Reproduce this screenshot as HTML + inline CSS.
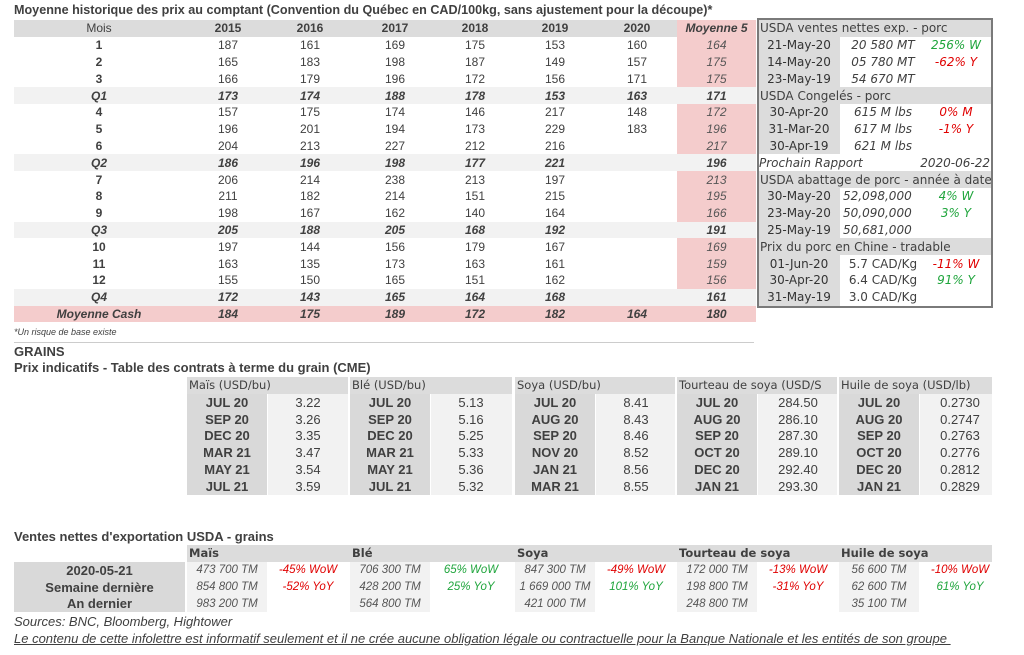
<!DOCTYPE html>
<html><head><meta charset="utf-8">
<style>
body{margin:0;width:1024px;height:655px;background:#fff;position:relative;overflow:hidden;font-family:"Liberation Sans",Arial,sans-serif;color:#404040}
.c{position:absolute;box-sizing:border-box;white-space:nowrap;overflow:hidden;display:flex;align-items:center;font-size:12px}
.t{position:absolute;white-space:nowrap;font-weight:bold;font-size:13px;color:#404040}
.dv{font-family:"DejaVu Sans",sans-serif;font-size:11.5px}
.pk{font-size:12px}
</style></head><body>
<div class="t" style="left:14px;top:3px;font-size:12.6px">Moyenne historique des prix au comptant (Convention du Québec en CAD/100kg, sans ajustement pour la découpe)*</div>
<div class="t" style="left:14px;top:327px;font-size:9px;font-weight:normal;font-style:italic">*Un risque de base existe</div>
<div style="position:absolute;left:14px;top:342px;width:740px;height:1px;background:#ccc"></div>
<div class="t" style="left:14px;top:344px">GRAINS</div>
<div class="t" style="left:14px;top:360px">Prix indicatifs - Table des contrats à terme du grain (CME)</div>
<div class="t" style="left:14px;top:529px">Ventes nettes d'exportation USDA - grains</div>
<div class="t" style="left:14px;top:614px;font-weight:normal;font-style:italic">Sources: BNC, Bloomberg, Hightower</div>
<div class="t" style="left:14px;top:631px;font-weight:normal;font-style:italic;text-decoration:underline">Le contenu de cette infolettre est informatif seulement et il ne crée aucune obligation légale ou contractuelle pour la Banque Nationale et les entités de son groupe&nbsp;</div>
<div style="position:absolute;left:757px;top:18px;width:236px;height:290px;border:2px solid #7a7a7a;box-sizing:border-box;z-index:5"></div>
<script>
const years=['2015','2016','2017','2018','2019','2020'];
const rowLabels=['1','2','3','Q1','4','5','6','Q2','7','8','9','Q3','10','11','12','Q4','Moyenne Cash'];
const rowValues=[[187,161,169,175,153,160],[165,183,198,187,149,157],[166,179,196,172,156,171],[173,174,188,178,153,163],[157,175,174,146,217,148],[196,201,194,173,229,183],[204,213,227,212,216,''],[186,196,198,177,221,''],[206,214,238,213,197,''],[211,182,214,151,215,''],[198,167,162,140,164,''],[205,188,205,168,192,''],[197,144,156,179,167,''],[163,135,173,163,161,''],[155,150,165,151,162,''],[172,143,165,164,168,''],[184,175,189,172,182,164]];
const avg5=[164,175,175,171,172,196,217,196,213,195,166,191,169,159,156,161,180];
const porkSections=[['USDA ventes nettes exp. - porc',[['21-May-20','20 580  MT','256% W','g'],['14-May-20','05 780  MT','-62% Y','r'],['23-May-19','54 670  MT','','']]],['USDA Congelés - porc',[['30-Apr-20','615 M lbs','0% M','r'],['31-Mar-20','617 M lbs','-1% Y','r'],['30-Apr-19','621 M lbs','','']]],['USDA abattage de porc - année à date',[['30-May-20','52,098,000','4% W','g'],['23-May-20','50,090,000','3% Y','g'],['25-May-19','50,681,000','','']]],['Prix du porc en Chine - tradable',[['01-Jun-20','5.7 CAD/Kg','-11% W','r'],['30-Apr-20','6.4 CAD/Kg','91% Y','g'],['31-May-19','3.0 CAD/Kg','','']]]];
const grainNames=['Maïs (USD/bu)','Blé (USD/bu)','Soya (USD/bu)','Tourteau de soya (USD/S','Huile de soya (USD/lb)'];
const grainMonths=[['JUL 20','SEP 20','DEC 20','MAR 21','MAY 21','JUL 21'],['JUL 20','SEP 20','DEC 20','MAR 21','MAY 21','JUL 21'],['JUL 20','AUG 20','SEP 20','NOV 20','JAN 21','MAR 21'],['JUL 20','AUG 20','SEP 20','OCT 20','DEC 20','JAN 21'],['JUL 20','AUG 20','SEP 20','OCT 20','DEC 20','JAN 21']];
const grainPrices=[['3.22','3.26','3.35','3.47','3.54','3.59'],['5.13','5.16','5.25','5.33','5.36','5.32'],['8.41','8.43','8.46','8.52','8.56','8.55'],['284.50','286.10','287.30','289.10','292.40','293.30'],['0.2730','0.2747','0.2763','0.2776','0.2812','0.2829']];
const exportNames=['Maïs','Blé','Soya','Tourteau de soya','Huile de soya'];
const exportRowLabels=['2020-05-21','Semaine dernière','An dernier'];
const exportVolumes=[['473 700 TM','854 800 TM','983 200 TM'],['706 300 TM','428 200 TM','564 800 TM'],['847 300 TM','1 669 000 TM','421 000 TM'],['172 000 TM','198 800 TM','248 800 TM'],['56 600 TM','62 600 TM','35 100 TM']];
const exportPct=[['-45% WoW','-52% YoY'],['65% WoW','25% YoY'],['-49% WoW','101% YoY'],['-13% WoW','-31% YoY'],['-10% WoW','61% YoY']];

function cell(x,y,w,h,txt,css,cls){
  const d=document.createElement('div');
  d.className='c'+(cls?' '+cls:'');
  d.style.cssText=`left:${x}px;top:${y}px;width:${w}px;height:${h}px;justify-content:center;`+(css||'');
  d.textContent=txt;
  document.body.appendChild(d);
  return d;
}
const RH=16.8;
const colX=[188,270,355,435,515,597];
let e=cell(14,20,742,RH,'','background:#dcdcdc');


e=cell(14,20,170,RH,'Mois','');


years.forEach((yr,i)=>{
  const h=cell(colX[i],20,80,RH,yr,'font-weight:bold');
  
  
});
e=cell(677,20,79,RH,'Moyenne 5','font-weight:bold;font-style:italic;background:#f4cccc');


rowLabels.forEach((lab,r)=>{
  const y=20+RH*(r+1);
  const isQ=lab[0]==='Q', isC=lab==='Moyenne Cash';
  const bg=isC?'#f4cccc':(isQ?'#f2f2f2':'#fff');
  const st=(isQ||isC)?'font-weight:bold;font-style:italic;':'';
  const rb=cell(14,y,663,RH,'','background:'+bg);
  
  
  const l=cell(14,y,170,RH,lab,'font-weight:bold;'+((isQ||isC)?'font-style:italic;':''));
  
  
  rowValues[r].forEach((v,i)=>{
    const c=cell(colX[i],y,80,RH,String(v),st);
    
    
  });
  const a=cell(677,y,79,RH,String(avg5[r]),'background:'+(isQ?'#f2f2f2':'#f4cccc')+';font-style:italic;'+((isQ||isC)?'font-weight:bold;':'color:#555;'));
  
  
});
let py=20;
porkSections.forEach((sec,si)=>{
  const h=cell(758,py,234,RH,sec[0],'justify-content:flex-start;padding-left:2px;background:#dcdcdc','dv pk');
  
  
  py+=RH;
  sec[1].forEach(rw=>{
    const d=cell(758,py,82,RH,rw[0],'background:#dcdcdc;color:#333','dv pk');
    
    
    const it=si===3?'':'font-style:italic;';
    const v=cell(842,py,82,RH,rw[1],it+(si===2?'justify-content:flex-start;padding-left:1px;':''),'dv pk');
    
    
    const p=cell(924,py,64,RH,rw[2],'font-style:italic;color:'+(rw[3]==='g'?'#1fa53c':'#e00000'),'dv pk');
    
    
    py+=RH;
  });
  if(si===1){
    const pr=cell(758,py,232,RH,'Prochain Rapport','justify-content:space-between;font-style:italic;padding-left:1px','dv pk');
    const s=document.createElement('span');s.textContent='2020-06-22';pr.appendChild(s);
    
    
    py+=RH;
  }
});
const gX=[187,350,515,677,839];
const gW=[161,162,160,160,153];
grainNames.forEach((n,g)=>{
  const h=cell(gX[g],377,gW[g],RH,n,'justify-content:flex-start;padding-left:2px;background:#dcdcdc','dv');
  
  
  const lb=cell(gX[g],394,80,RH*6,'','background:#d9d9d9');
  
  
  const vb=cell(gX[g]+81,394,gW[g]-81,RH*6,'','background:#f2f2f2');
  
  
  grainMonths[g].forEach((m,i)=>{
    const y=394+RH*i;
    const a=cell(gX[g],y,80,RH,m,'font-weight:bold;font-size:13px');
    
    
    const b=cell(gX[g]+81,y,80,RH,grainPrices[g][i],'font-size:13px');
    
    
  });
});
const eh=cell(187,545,805,RH,'','background:#dcdcdc');


const el=cell(14,562,171,RH*3,'','background:#d9d9d9');


exportRowLabels.forEach((l,i)=>{
  const c=cell(14,562+RH*i,171,RH,l,'font-weight:bold;font-size:13px');
  
  
});
exportNames.forEach((n,g)=>{
  const h=cell(gX[g],545,gW[g],RH,n,'justify-content:flex-start;padding-left:2px;font-weight:bold','dv');
  
  
  const vb=cell(gX[g],562,80,RH*3,'','background:#f2f2f2');
  
  
  exportVolumes[g].forEach((v,i)=>{
    const c=cell(gX[g],562+RH*i,80,RH,v,'font-style:italic;font-size:11.5px;color:#555');
    
    
  });
  exportPct[g].forEach((p,i)=>{
    const c=cell(gX[g]+81,562+RH*i,80,RH,p,'font-style:italic;font-size:11.5px;color:'+(p[0]==='-'?'#e00000':'#1fa53c'));
    
    
  });
});
</script>
</body></html>
